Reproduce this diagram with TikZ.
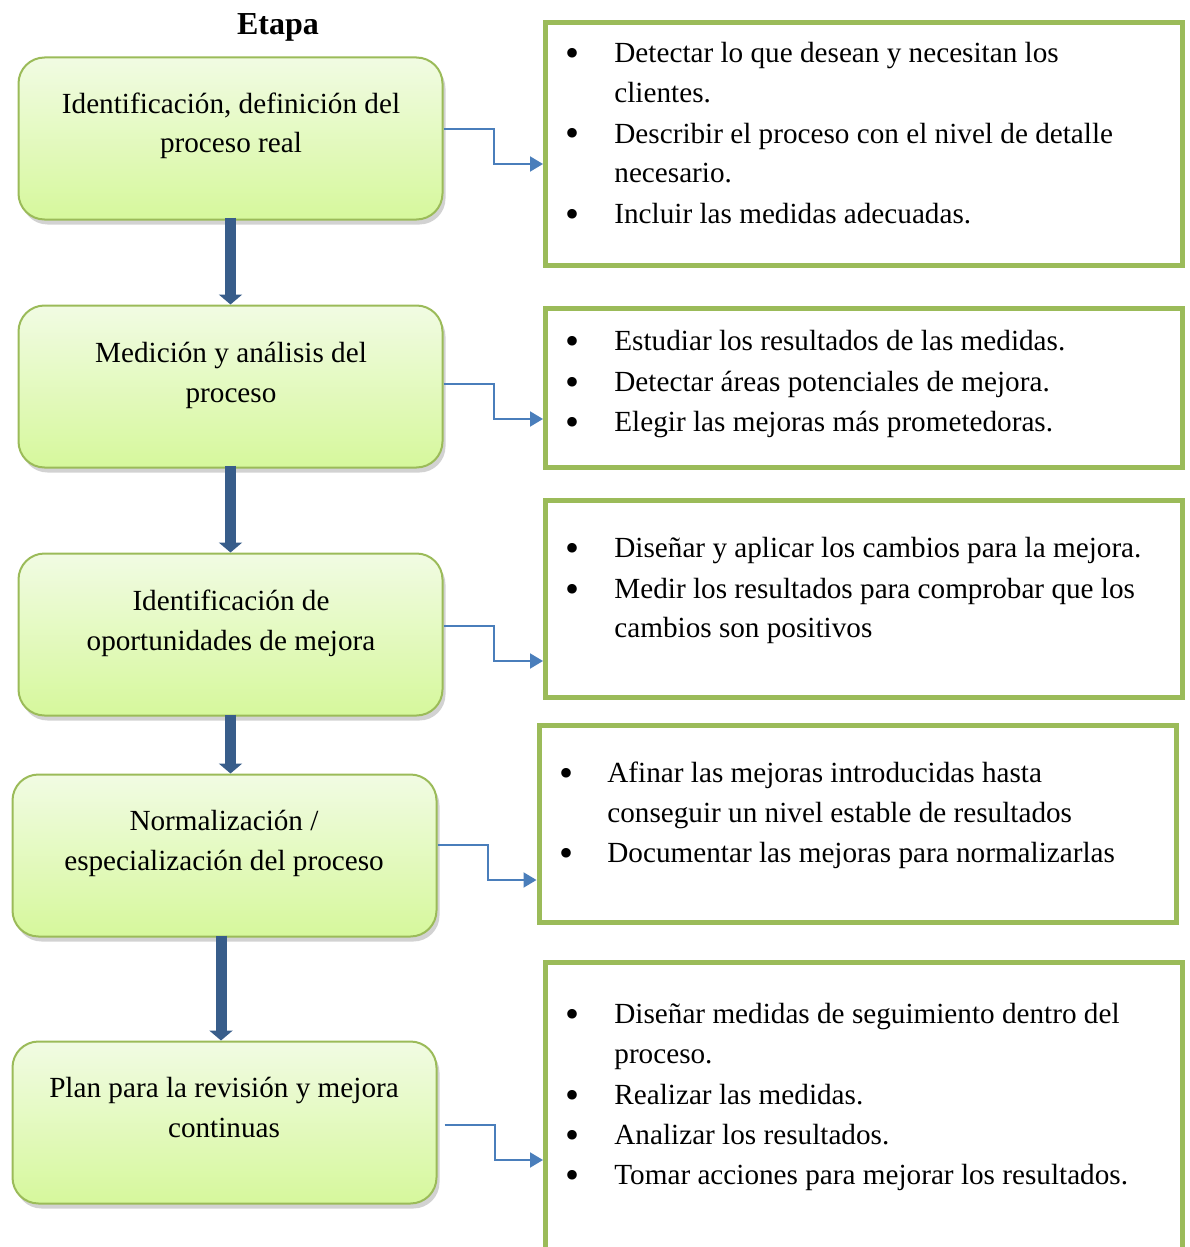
\documentclass[tikz,border=0pt]{standalone}
\usepackage{fontspec}
\setmainfont{Liberation Serif}
\usetikzlibrary{arrows.meta,shadows}
\definecolor{boxgreen}{RGB}{155,187,89}
\definecolor{gtop}{RGB}{241,251,227}
\definecolor{gbot}{RGB}{214,248,156}
\definecolor{connblue}{RGB}{74,126,187}
\definecolor{flowblue}{RGB}{56,93,138}
\begin{document}
\begin{tikzpicture}[x=0.5pt,y=-0.5pt,font=\fontsize{14.6pt}{20pt}\selectfont,
  stage/.style={draw=boxgreen, line width=1pt, rounded corners=13pt, top color=gtop, bottom color=gbot,
    minimum width=212pt, minimum height=81pt, inner sep=0pt,
    drop shadow={shadow xshift=1.5pt,shadow yshift=-2.5pt,opacity=0.25,fill=black!70}},
  info/.style={draw=boxgreen, line width=2.5pt, minimum width=318.5pt, inner sep=0pt, fill=white},
  conn/.style={draw=connblue, line width=1pt, -{Triangle[length=6.5pt,width=7.5pt]}},
  flow/.style={draw=flowblue, line width=5.5pt, -{Triangle[length=5pt,width=11.5pt]}},
  txt/.style={anchor=base west, inner sep=0pt},
  bul/.style={anchor=base, inner sep=0pt, yshift=-2pt, font=\fontsize{20pt}{20pt}\selectfont},
  ctr/.style={anchor=base, inner sep=0pt}]
\useasboundingbox (0,0) rectangle (1189,1247);

% title
\node[ctr, font=\fontsize{16pt}{18pt}\selectfont\bfseries] (title) at (278,35) {Etapa};

% stage boxes
\node[stage] (g1) at (230.5,138.5) {};
\node[stage] (g2) at (230.5,386.5) {};
\node[stage] (g3) at (230.5,634.5) {};
\node[stage] (g4) at (224.5,855.5) {};
\node[stage] (g5) at (224.5,1122.5) {};

\node[ctr] (g1a) at (231,113) {Identificación, definición del};
\node[ctr] (g1b) at (231,153) {proceso real};
\node[ctr] (g2a) at (231,362) {Medición y análisis del};
\node[ctr] (g2b) at (231,402) {proceso};
\node[ctr] (g3a) at (231,610) {Identificación de};
\node[ctr] (g3b) at (231,650) {oportunidades de mejora};
\node[ctr] (g4a) at (224,830) {Normalización /};
\node[ctr] (g4b) at (224,870) {especialización del proceso};
\node[ctr] (g5a) at (224,1097) {Plan para la revisión y mejora};
\node[ctr] (g5b) at (224,1137) {continuas};

% info boxes
\node[info, minimum height=121.5pt] (r1) at (864,144) {};
\node[info, minimum height=79.5pt] (r2) at (864,388) {};
\node[info, minimum height=98.5pt] (r3) at (864,599) {};
\node[info, minimum height=98.5pt] (r4) at (857.5,824) {};
\node[info, minimum height=150pt] (r5) at (864,1112.5) {};

\begin{scope}[yshift=-1pt]
% box 1 items
\node[bul] (b11) at (572,61) {\textbullet};
\node[txt] (t11a) at (614,61) {Detectar lo que desean y necesitan los};
\node[txt] (t11b) at (614,101) {clientes.};
\node[bul] (b12) at (572,141) {\textbullet};
\node[txt] (t12a) at (614,141) {Describir el proceso con el nivel de detalle};
\node[txt] (t12b) at (614,181) {necesario.};
\node[bul] (b13) at (572,221) {\textbullet};
\node[txt] (t13a) at (614,221) {Incluir las medidas adecuadas.};

% box 2 items
\node[bul] (b21) at (572,348) {\textbullet};
\node[txt] (t21) at (614,348) {Estudiar los resultados de las medidas.};
\node[bul] (b22) at (572,389) {\textbullet};
\node[txt] (t22) at (614,389) {Detectar áreas potenciales de mejora.};
\node[bul] (b23) at (572,429) {\textbullet};
\node[txt] (t23) at (614,429) {Elegir las mejoras más prometedoras.};

% box 3 items
\node[bul] (b31) at (572,555) {\textbullet};
\node[txt] (t31) at (614,555) {Diseñar y aplicar los cambios para la mejora.};
\node[bul] (b32) at (572,596) {\textbullet};
\node[txt] (t32a) at (614,596) {Medir los resultados para comprobar que los};
\node[txt] (t32b) at (614,635) {cambios son positivos};

% box 4 items
\node[bul] (b41) at (566,780) {\textbullet};
\node[txt] (t41a) at (607,780) {Afinar las mejoras introducidas hasta};
\node[txt] (t41b) at (607,820) {conseguir un nivel estable de resultados};
\node[bul] (b42) at (566,860) {\textbullet};
\node[txt] (t42) at (607,860) {Documentar las mejoras para normalizarlas};

% box 5 items
\node[bul] (b51) at (572,1021) {\textbullet};
\node[txt] (t51a) at (614,1021) {Diseñar medidas de seguimiento dentro del};
\node[txt] (t51b) at (614,1061) {proceso.};
\node[bul] (b52) at (572,1102) {\textbullet};
\node[txt] (t52) at (614,1102) {Realizar las medidas.};
\node[bul] (b53) at (572,1142) {\textbullet};
\node[txt] (t53) at (614,1142) {Analizar los resultados.};
\node[bul] (b54) at (572,1182) {\textbullet};
\node[txt] (t54) at (614,1182) {Tomar acciones para mejorar los resultados.};
\end{scope}

% vertical flow arrows
\draw[flow] ([yshift=1.5pt]g1.south) -- (g1.south |- g2.north);
\draw[flow] ([yshift=1.5pt]g2.south) -- (g2.south |- g3.north);
\draw[flow] ([yshift=1pt]g3.south) -- (g3.south |- g4.north);
\draw[flow] ([xshift=-1.75pt,yshift=1pt]g4.south) -- ([xshift=-1.75pt]g4.south |- g5.north);

% connectors to info boxes
\draw[conn] ([yshift=4.75pt]g1.east) -- ++(25pt,0) |- ([yshift=-10pt]r1.west);
\draw[conn] ([yshift=1.25pt]g2.east) -- ++(25pt,0) |- ([yshift=-15.5pt]r2.west);
\draw[conn] ([yshift=4.25pt]g3.east) -- ++(25pt,0) |- ([yshift=-31pt]r3.west);
\draw[conn] ([yshift=5.25pt]g4.east) -- ++(25pt,0) |- ([yshift=-28pt]r4.west);
\draw[conn] ([xshift=3.5pt,yshift=-1.25pt]g5.east) -- ++(25pt,0) |- ([yshift=-23.75pt]r5.west);
\end{tikzpicture}
\end{document}
